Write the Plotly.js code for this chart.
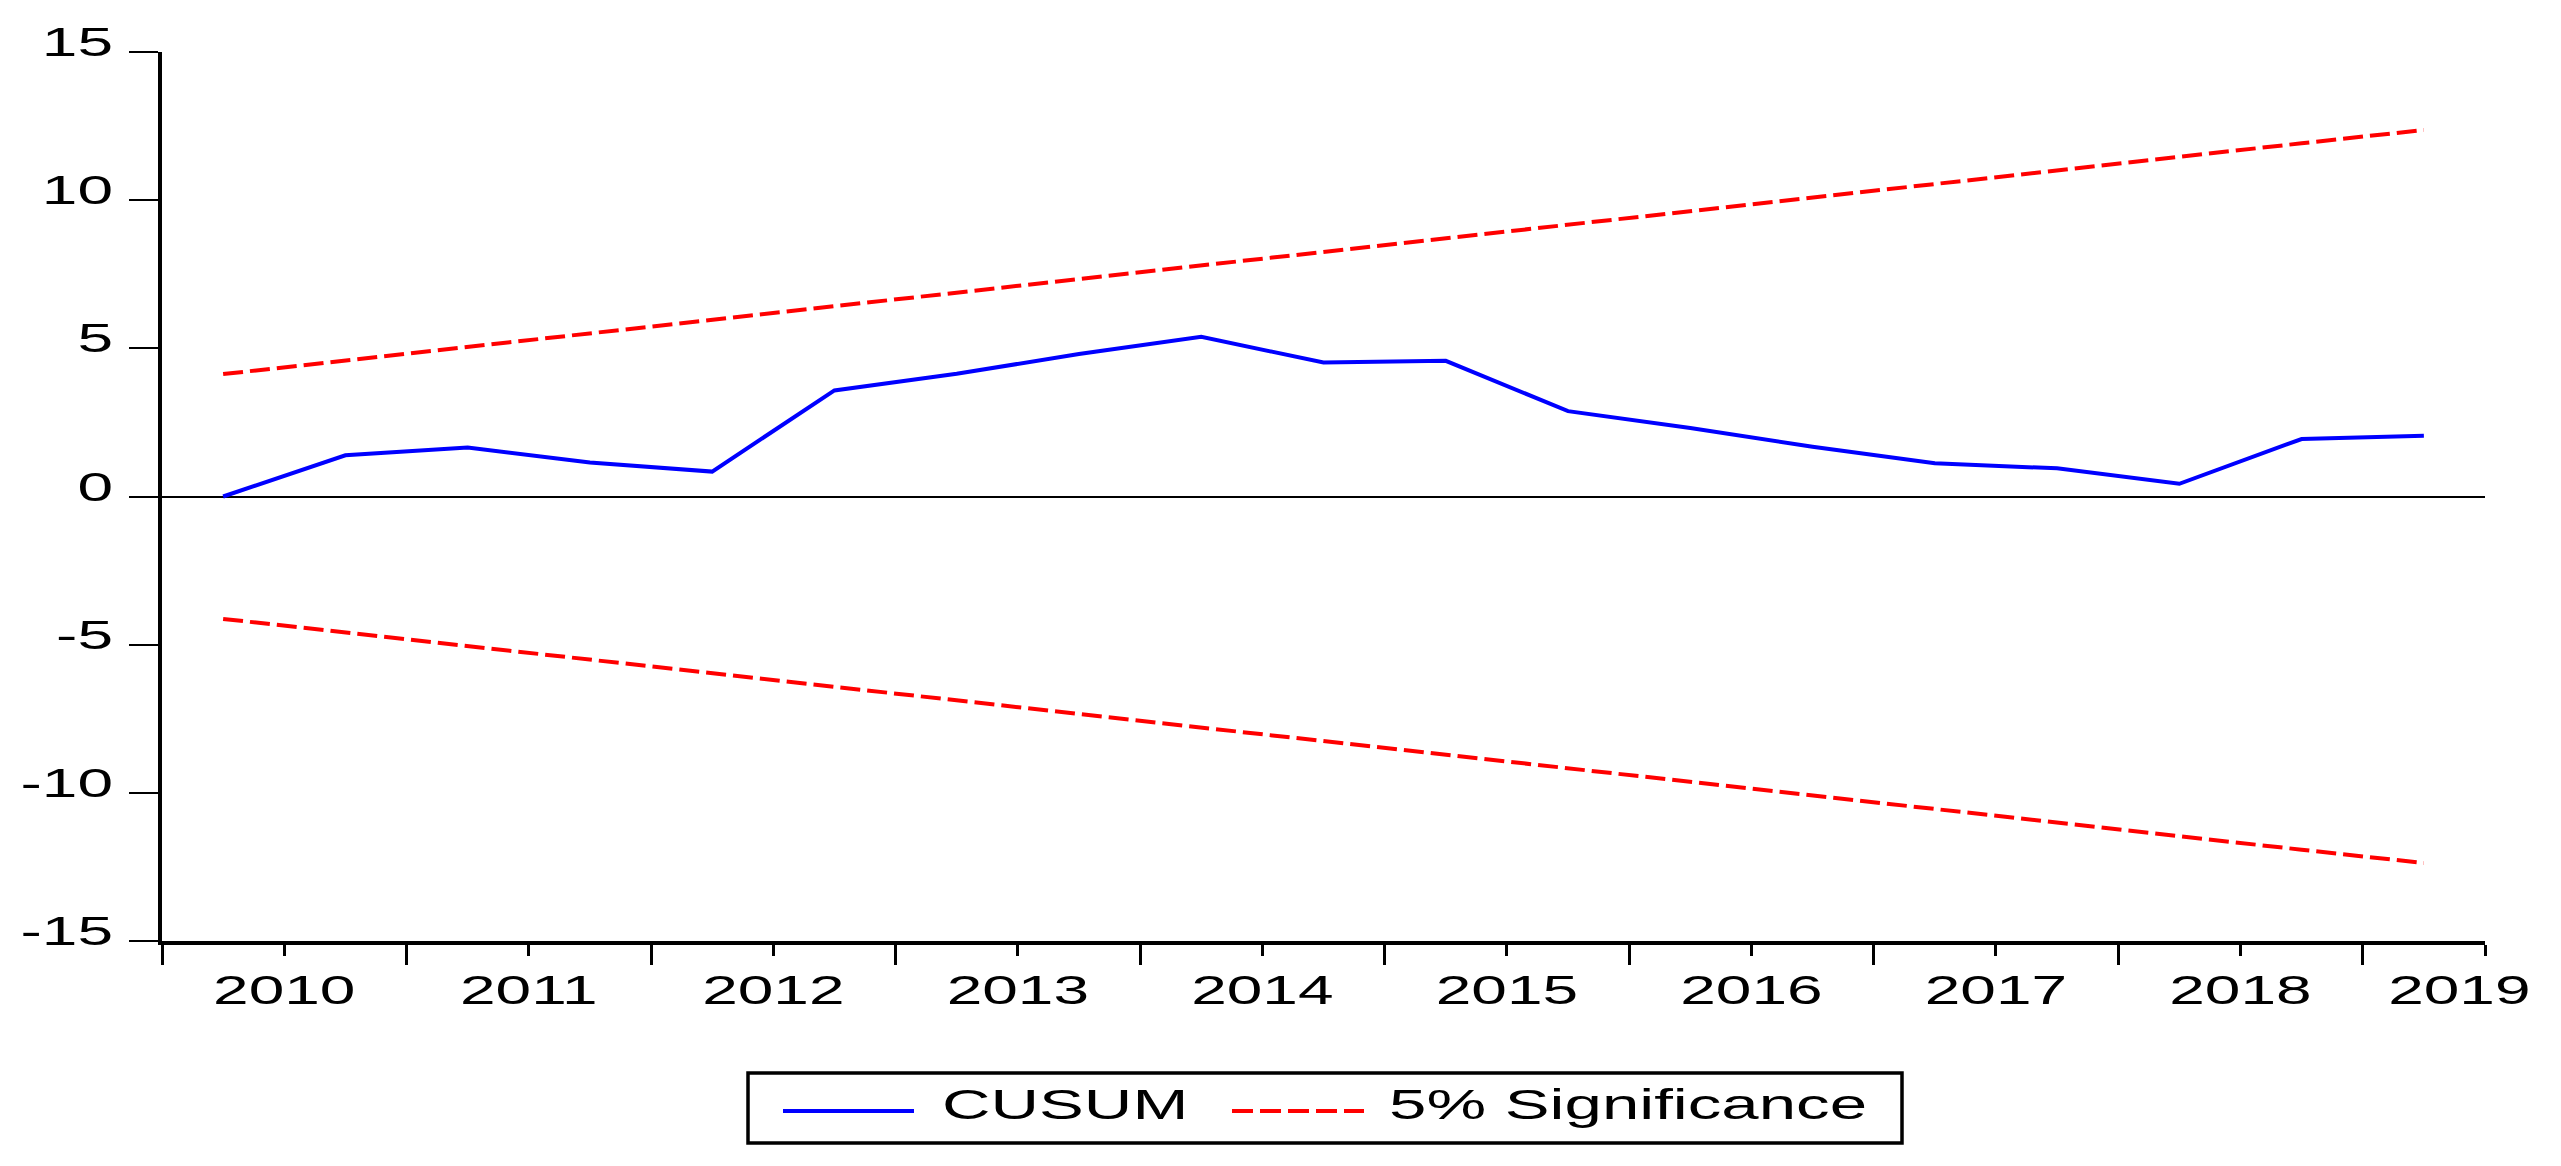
<!DOCTYPE html>
<html>
<head>
<meta charset="utf-8">
<script src="https://cdn.plot.ly/plotly-3.0.1.min.js"></script>
<style>
  html, body { margin: 0; padding: 0; background: #fff; }
  #chart { width: 2561px; height: 1166px; }
</style>
</head>
<body>
<div id="chart"></div>
<script>
// ---- Data (semiannual observations) ----
const periods = ['2010S1','2010S2','2011S1','2011S2','2012S1','2012S2','2013S1','2013S2',
  '2014S1','2014S2','2015S1','2015S2','2016S1','2016S2','2017S1','2017S2','2018S1','2018S2','2019S1'];
const cusum = [0.00, 1.39, 1.65, 1.15, 0.84, 3.58, 4.14, 4.81, 5.39, 4.52, 4.58, 2.88, 2.31, 1.68, 1.12, 0.95, 0.43, 1.94, 2.05];
const upper5 = [4.13, 4.59, 5.05, 5.50, 5.96, 6.42, 6.88, 7.34, 7.80, 8.25, 8.71, 9.17, 9.63, 10.09, 10.55, 11.00, 11.46, 11.92, 12.37];
const lower5 = [-4.13, -4.59, -5.05, -5.50, -5.96, -6.42, -6.88, -7.34, -7.80, -8.25, -8.71, -9.17, -9.63, -10.09, -10.55, -11.00, -11.46, -11.92, -12.37];
const yearLabels = ['2010','2011','2012','2013','2014','2015','2016','2017','2018','2019'];
const yTicks = [-15, -10, -5, 0, 5, 10, 15];
const yTickText = ['-15', '-10', '-5', '0', '5', '10', '15'];
const seriesNames = ['CUSUM', '5% Significance'];

// ---- Layout geometry ----
const W = 2561, H = 1166;
const M = { l: 162, r: 76, t: 52, b: 225 };
const PW = W - M.l - M.r, PH = H - M.t - M.b;
const xp = px => (px - M.l) / PW;
const yp = py => (H - M.b - py) / PH;
const FONT = 'Liberation Sans, Arial, Helvetica, sans-serif';
const STRETCH = 1.6;

const xIdx = periods.map((p, i) => i);
const nObs = periods.length;
// long ticks at year boundaries, short ticks at mid-year
const yearStarts = [];
const yearMids = [];
periods.forEach((p, i) => {
  if (p.endsWith('S1')) yearStarts.push(i - 0.5);
  else yearMids.push(i - 0.5);
});
yearMids.push(nObs - 0.5);
// year labels centred on each year's span; the last (partial) year nudged to fit
const labelPos = yearLabels.map((y, k) => {
  const idx = periods.filter(p => p.startsWith(y)).map(p => periods.indexOf(p));
  const c = (Math.min(...idx) + Math.max(...idx)) / 2;
  return idx.length === 2 ? c : c + 0.29;
});

const traces = [
  { x: xIdx, y: cusum, name: seriesNames[0], type: 'scatter', mode: 'lines',
    line: { color: '#0000FF', width: 4 }, showlegend: false },
  { x: xIdx, y: upper5, name: seriesNames[1], type: 'scatter', mode: 'lines',
    line: { color: '#FF0000', width: 4, dash: '20px,7px' }, showlegend: false },
  { x: xIdx, y: lower5, name: seriesNames[1], type: 'scatter', mode: 'lines',
    line: { color: '#FF0000', width: 4, dash: '20px,7px' }, showlegend: false },
  { x: [0], y: [0], xaxis: 'x2', yaxis: 'y', type: 'scatter', mode: 'none', hoverinfo: 'skip', showlegend: false }
];

const layout = {
  width: W, height: H,
  margin: M,
  paper_bgcolor: '#fff', plot_bgcolor: '#fff',
  font: { family: FONT, size: 40, color: '#000' },
  showlegend: false,
  xaxis: {
    range: [-0.5, nObs - 0.5], showgrid: false, zeroline: false,
    showline: true, linecolor: '#000', linewidth: 4,
    tickmode: 'array', tickvals: yearStarts, ticks: 'outside', ticklen: 20, tickwidth: 3, tickcolor: '#000',
    minor: { tickmode: 'array', tickvals: yearMids, ticks: 'outside', ticklen: 11, tickwidth: 3, tickcolor: '#000', showgrid: false },
    showticklabels: false, automargin: false, fixedrange: true
  },
  xaxis2: {
    overlaying: 'x', anchor: 'y', side: 'bottom', matches: 'x',
    range: [-0.5, nObs - 0.5], showgrid: false, zeroline: false, showline: false,
    tickmode: 'array', tickvals: labelPos, ticktext: yearLabels, ticks: '', ticklen: 0,
    tickfont: { family: FONT, size: 40, color: '#000' }, ticklabelstandoff: 22,
    automargin: false, fixedrange: true
  },
  yaxis: {
    range: [-15, 15], showgrid: false,
    zeroline: true, zerolinecolor: '#000', zerolinewidth: 2,
    showline: true, linecolor: '#000', linewidth: 4,
    tickmode: 'array', tickvals: yTicks, ticktext: yTickText, ticks: 'outside', ticklen: 29, tickwidth: 2, tickcolor: '#000',
    tickfont: { family: FONT, size: 40, color: '#000' }, ticklabelstandoff: 8,
    automargin: false, fixedrange: true
  },
  shapes: [
    { type: 'rect', xref: 'paper', yref: 'paper', x0: xp(748), x1: xp(1902), y0: yp(1143), y1: yp(1073),
      line: { color: '#000', width: 3.5 }, fillcolor: 'rgba(0,0,0,0)' },
    { type: 'line', xref: 'paper', yref: 'paper', x0: xp(783), x1: xp(914), y0: yp(1111), y1: yp(1111),
      line: { color: '#0000FF', width: 4 } },
    { type: 'line', xref: 'paper', yref: 'paper', x0: xp(1232), x1: xp(1364), y0: yp(1111), y1: yp(1111),
      line: { color: '#FF0000', width: 4, dash: '21px,7px' } }
  ],
  annotations: [
    { xref: 'paper', yref: 'paper', x: xp(940), y: yp(1104), xanchor: 'left', yanchor: 'middle',
      text: seriesNames[0], showarrow: false, font: { family: FONT, size: 42, color: '#000' } },
    { xref: 'paper', yref: 'paper', x: xp(1387), y: yp(1104), xanchor: 'left', yanchor: 'middle',
      text: seriesNames[1], showarrow: false, font: { family: FONT, size: 42, color: '#000' } }
  ]
};

// the reference's lettering is drawn horizontally widened; reproduce that
function stretch(sel, anchor, dy) {
  document.querySelectorAll(sel).forEach(t => {
    const b = t.getBBox();
    const ax = anchor === 'end' ? b.x + b.width : anchor === 'start' ? b.x : b.x + b.width / 2;
    const prev = t.getAttribute('transform') || '';
    t.setAttribute('transform', prev + ' translate(' + ax + ',' + (dy || 0) + ') scale(' + STRETCH + ',1) translate(' + (-ax) + ',0)');
  });
}

Plotly.newPlot('chart', traces, layout, { displayModeBar: false, staticPlot: true }).then(() => {
  stretch('.ytick text', 'end', -10);
  stretch('.x2tick text', 'middle', 0);
  stretch('.annotation-text', 'start', 0);
});
</script>
</body>
</html>
